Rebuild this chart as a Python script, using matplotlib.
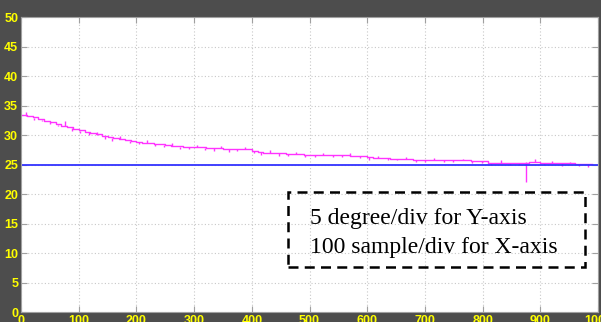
import numpy as np
import matplotlib.pyplot as plt
from matplotlib.patches import Rectangle

sample = list(range(0, 1000, 10))
temp = [33.4, 33.2, 33.0, 32.8, 32.4, 32.2, 31.9, 31.6, 31.4, 31.1,
        30.8, 30.6, 30.4, 30.1, 29.9, 29.7, 29.5, 29.3, 29.2, 29.0,
        28.9, 28.7, 28.6, 28.5, 28.4, 28.3, 28.2, 28.1, 28.0, 28.0,
        27.9, 27.9, 27.8, 27.8, 27.8, 27.7, 27.7, 27.7, 27.6, 27.6,
        27.3, 27.2, 27.0, 27.0, 26.9, 26.9, 26.8, 26.8, 26.8, 26.7,
        26.7, 26.7, 26.7, 26.6, 26.6, 26.6, 26.6, 26.5, 26.5, 26.5,
        26.3, 26.1, 26.1, 26.1, 26.0, 26.0, 26.0, 25.9, 25.8, 25.8,
        25.8, 25.8, 25.8, 25.7, 25.7, 25.7, 25.7, 25.7, 25.6, 25.6,
        25.6, 25.3, 25.3, 25.3, 25.3, 25.3, 25.3, 25.3, 25.4, 25.4,
        25.3, 25.3, 25.3, 25.3, 25.2, 25.2, 25.1, 25.1, 25.1, 25.1]

# short noise spikes on the trace: sample index and tip value
spike_x = [8, 22, 37, 51, 64, 76, 88, 103, 117, 131, 146, 158, 172, 188,
           205, 219, 233, 247, 262, 276, 291, 305, 318, 334, 347, 361,
           374, 389, 403, 416, 431, 447, 462, 476, 493, 509, 524, 540,
           556, 571, 588, 603, 619, 636, 652, 667, 684, 700, 716, 733,
           749, 766, 782, 799, 815, 832, 848, 863, 876, 891, 906, 921,
           938, 952, 967, 983]
spike_tip = [33.9, 32.6, 32.4, 31.8, 31.5, 32.4, 30.7, 30.3, 30.0, 30.6,
             29.4, 29.0, 29.8, 28.6, 28.4, 29.1, 28.1, 28.0, 28.6, 27.7,
             27.6, 28.3, 27.4, 27.3, 28.1, 27.2, 27.3, 28.0, 26.9, 26.6,
             27.4, 26.5, 26.4, 27.2, 26.3, 26.3, 27.0, 26.2, 26.2, 26.9,
             26.1, 25.8, 26.4, 25.7, 25.7, 26.3, 25.5, 25.5, 26.1, 25.4,
             25.4, 26.0, 25.3, 25.2, 24.9, 25.7, 24.9, 25.0, 22.1, 25.9,
             24.9, 25.6, 24.8, 25.5, 24.7, 24.6]

setpoint = 25

bg = '#4d4d4d'
fig = plt.figure(figsize=(6.01, 3.22), dpi=100, facecolor=bg)
ax = fig.add_axes([0.035, 0.031, 0.96, 0.916])
ax.set_facecolor('white')

ax.plot(sample, temp, color='#ff33ff', lw=1, drawstyle='steps-post')
base = np.interp(spike_x, sample, temp)
ax.vlines(spike_x, base, spike_tip, color='#ff33ff', lw=1)
ax.axhline(setpoint, color='#3333ff', lw=1.3)

ax.set_xlim(0, 1000)
ax.set_ylim(0, 50)
ax.set_xticks(range(0, 1001, 100))
ax.set_yticks(range(0, 51, 5))
ax.grid(True, color='#c8c8c8', linestyle=(0, (1, 2)), lw=0.8)
ax.tick_params(direction='in', length=4, color='#a0a0a0', top=True, right=True,
               labelcolor='#ffff00', labelsize=9, pad=2)
for lab in ax.get_xticklabels() + ax.get_yticklabels():
    lab.set_fontweight('bold')
    lab.set_family('Liberation Sans')
for s in ax.spines.values():
    s.set_color('#a0a0a0')

# annotation box
ax.add_patch(Rectangle((463, 7.6), 514, 12.7, fill=False, ec='black',
                       lw=1.8, ls=(0, (4, 2.5)), zorder=5))
ax.text(501, 15.9, '5 degree/div for Y-axis', family='Liberation Serif',
        fontsize=17, va='center', zorder=6)
ax.text(501, 10.9, '100 sample/div for X-axis', family='Liberation Serif',
        fontsize=17, va='center', zorder=6)

fig.savefig('out.png', dpi=100, facecolor=bg)
